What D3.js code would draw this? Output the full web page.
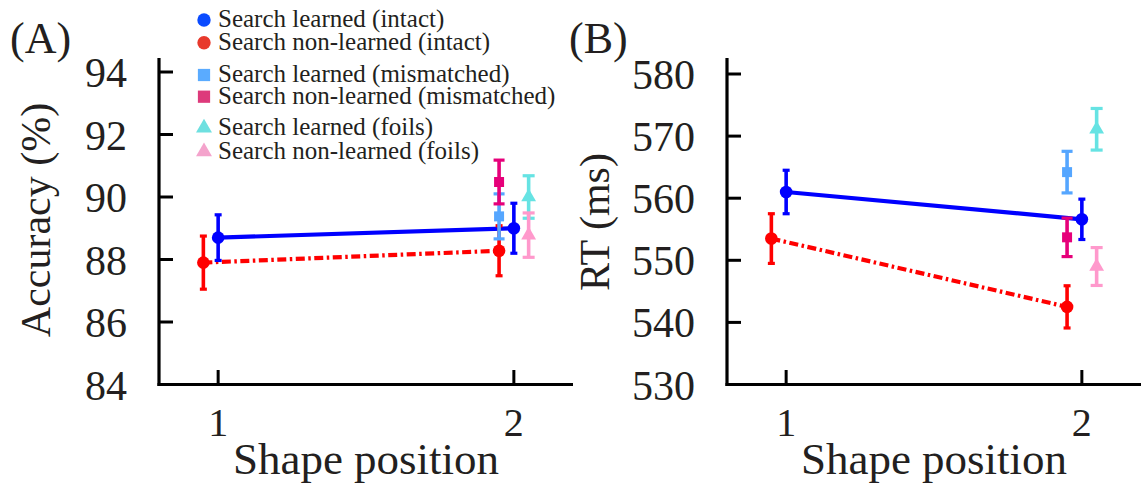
<!DOCTYPE html>
<html>
<head>
<meta charset="utf-8">
<script src="https://cdn.jsdelivr.net/npm/d3@7"></script>
<style>
  html, body { margin: 0; padding: 0; background: #fff; }
</style>
</head>
<body>
<svg id="chart" width="1144" height="485" font-family="'Liberation Serif', 'Times New Roman', Times, 'Nimbus Roman', 'DejaVu Serif', serif"></svg>
<script>
// Shape positions (x) and offsets used to separate overlapping conditions
const positions = [1, 2];
const offsetLeft = -0.05;
const offsetRight = 0.05;

// (A) Accuracy (%) — means and standard errors
const accLearnedIntact = [88.7, 89.0];
const accLearnedIntactErr = [0.73, 0.8];
const accNonLearnedIntact = [87.9, 88.28];
const accNonLearnedIntactErr = [0.85, 0.8];
const accLearnedMismatched = [89.38];
const accLearnedMismatchedErr = [0.72];
const accNonLearnedMismatched = [90.48];
const accNonLearnedMismatchedErr = [0.7];
const accLearnedFoils = [90.0];
const accLearnedFoilsErr = [0.68];
const accNonLearnedFoils = [88.78];
const accNonLearnedFoilsErr = [0.71];

// (B) RT (ms) — means and standard errors
const rtLearnedIntact = [561.0, 556.6];
const rtLearnedIntactErr = [3.5, 3.25];
const rtNonLearnedIntact = [553.5, 542.5];
const rtNonLearnedIntactErr = [4.0, 3.4];
const rtLearnedMismatched = [564.2];
const rtLearnedMismatchedErr = [3.35];
const rtNonLearnedMismatched = [553.7];
const rtNonLearnedMismatchedErr = [3.1];
const rtLearnedFoils = [571.1];
const rtLearnedFoilsErr = [3.35];
const rtNonLearnedFoils = [549.0];
const rtNonLearnedFoilsErr = [3.05];

// Axis ticks
const accTicks = [84, 86, 88, 90, 92, 94];
const rtTicks = [530, 540, 550, 560, 570, 580];
const xTicks = [1, 2];

const legendLabels = [
  "Search learned (intact)",
  "Search non-learned (intact)",
  "Search learned (mismatched)",
  "Search non-learned (mismatched)",
  "Search learned (foils)",
  "Search non-learned (foils)"
];

const svg = d3.select("#chart");
const textColor = "#231f20";

const colors = {
  learnedIntact: "#0000ff",
  nonLearnedIntact: "#ff0000",
  learnedMismatched: "#55a6ff",
  nonLearnedMismatched: "#e6007a",
  learnedFoils: "#66e3e3",
  nonLearnedFoils: "#ff99cc"
};
const legendColors = ["#0a4bff", "#e8392c", "#5aabff", "#dd3a7b", "#6ee0e0", "#f4a3cc"];
const legendShapes = [d3.symbolCircle, d3.symbolCircle, d3.symbolSquare, d3.symbolSquare, d3.symbolTriangle, d3.symbolTriangle];

function addText(parent, str, size) {
  return parent.append("text").attr("font-size", size).attr("fill", textColor).text(str);
}

function drawPanel(cfg) {
  const g = svg.append("g");
  const x = d3.scaleLinear().domain([0.8, 2.2]).range([cfg.left, cfg.left + 414]);
  const y = d3.scaleLinear().domain(cfg.domain).range([384.5, cfg.top]);

  // axes
  g.append("line").attr("x1", cfg.left).attr("x2", cfg.left)
    .attr("y1", 58).attr("y2", 386).attr("stroke", "#000").attr("stroke-width", 3.2);
  g.append("line").attr("x1", cfg.left - 1.5).attr("x2", cfg.left + 414)
    .attr("y1", 384.5).attr("y2", 384.5).attr("stroke", "#000").attr("stroke-width", 3.2);

  // y ticks (inward) and labels
  cfg.ticks.forEach(t => {
    if (t !== cfg.domain[0]) {
      g.append("line").attr("x1", cfg.left).attr("x2", cfg.left + 14)
        .attr("y1", y(t)).attr("y2", y(t)).attr("stroke", "#000").attr("stroke-width", 3);
    }
    addText(g, t, 42).attr("x", cfg.left - 32).attr("y", y(t) + 15).attr("text-anchor", "end");
  });

  // x ticks (inward) and labels
  xTicks.forEach(t => {
    g.append("line").attr("x1", x(t)).attr("x2", x(t))
      .attr("y1", 384.5).attr("y2", 370).attr("stroke", "#000").attr("stroke-width", 3);
    addText(g, t, 40).attr("x", x(t)).attr("y", 436).attr("text-anchor", "middle");
  });

  addText(g, "Shape position", 45).attr("x", cfg.left + 207).attr("y", 474).attr("text-anchor", "middle");

  addText(g, cfg.title, 42)
    .attr("transform", `translate(${cfg.titleX},${cfg.titleY}) rotate(-90)`)
    .attr("text-anchor", "middle");

  addText(g, cfg.label, 44).attr("x", cfg.labelX).attr("y", 53);

  // connecting lines for intact conditions
  const line = d3.line().x(d => x(d[0])).y(d => y(d[1]));
  const learnedPts = positions.map((p, i) => [p, cfg.learnedIntact[i]]);
  const nonLearnedPts = positions.map((p, i) => [p + offsetLeft, cfg.nonLearnedIntact[i]]);
  g.append("path").attr("d", line(nonLearnedPts)).attr("fill", "none")
    .attr("stroke", colors.nonLearnedIntact).attr("stroke-width", 4.2)
    .attr("stroke-dasharray", "9,3.5,2.5,3.5");
  g.append("path").attr("d", line(learnedPts)).attr("fill", "none")
    .attr("stroke", colors.learnedIntact).attr("stroke-width", 4.2);

  function series(xs, vals, errs, color, shape, size, capW) {
    xs.forEach((px, i) => {
      const cx = x(px), v = vals[i], e = errs[i];
      g.append("line").attr("x1", cx).attr("x2", cx)
        .attr("y1", y(v - e)).attr("y2", y(v + e)).attr("stroke", color).attr("stroke-width", 3.6);
      [v - e, v + e].forEach(c => {
        g.append("line").attr("x1", cx - capW / 2).attr("x2", cx + capW / 2)
          .attr("y1", y(c)).attr("y2", y(c)).attr("stroke", color).attr("stroke-width", 3.2);
      });
      g.append("path").attr("d", d3.symbol().type(shape).size(size)())
        .attr("transform", `translate(${cx},${y(v)})`).attr("fill", color);
    });
  }

  series(positions, cfg.learnedIntact, cfg.learnedIntactErr, colors.learnedIntact, d3.symbolCircle, 125, 7);
  series(positions.map(p => p + offsetLeft), cfg.nonLearnedIntact, cfg.nonLearnedIntactErr, colors.nonLearnedIntact, d3.symbolCircle, 125, 7);
  series([2 + offsetLeft], cfg.learnedMismatched, cfg.learnedMismatchedErr, colors.learnedMismatched, d3.symbolSquare, 100, 11);
  series([2 + offsetLeft], cfg.nonLearnedMismatched, cfg.nonLearnedMismatchedErr, colors.nonLearnedMismatched, d3.symbolSquare, 100, 11);
  series([2 + offsetRight], cfg.learnedFoils, cfg.learnedFoilsErr, colors.learnedFoils, d3.symbolTriangle, 95, 12);
  series([2 + offsetRight], cfg.nonLearnedFoils, cfg.nonLearnedFoilsErr, colors.nonLearnedFoils, d3.symbolTriangle, 95, 12);
}

drawPanel({
  left: 159, top: 72, domain: [84, 94], ticks: accTicks,
  title: "Accuracy (%)", titleX: 50, titleY: 220, label: "(A)", labelX: 10,
  learnedIntact: accLearnedIntact, learnedIntactErr: accLearnedIntactErr,
  nonLearnedIntact: accNonLearnedIntact, nonLearnedIntactErr: accNonLearnedIntactErr,
  learnedMismatched: accLearnedMismatched, learnedMismatchedErr: accLearnedMismatchedErr,
  nonLearnedMismatched: accNonLearnedMismatched, nonLearnedMismatchedErr: accNonLearnedMismatchedErr,
  learnedFoils: accLearnedFoils, learnedFoilsErr: accLearnedFoilsErr,
  nonLearnedFoils: accNonLearnedFoils, nonLearnedFoilsErr: accNonLearnedFoilsErr
});

drawPanel({
  left: 727, top: 74, domain: [530, 580], ticks: rtTicks,
  title: "RT (ms)", titleX: 609, titleY: 222, label: "(B)", labelX: 569,
  learnedIntact: rtLearnedIntact, learnedIntactErr: rtLearnedIntactErr,
  nonLearnedIntact: rtNonLearnedIntact, nonLearnedIntactErr: rtNonLearnedIntactErr,
  learnedMismatched: rtLearnedMismatched, learnedMismatchedErr: rtLearnedMismatchedErr,
  nonLearnedMismatched: rtNonLearnedMismatched, nonLearnedMismatchedErr: rtNonLearnedMismatchedErr,
  learnedFoils: rtLearnedFoils, learnedFoilsErr: rtLearnedFoilsErr,
  nonLearnedFoils: rtNonLearnedFoils, nonLearnedFoilsErr: rtNonLearnedFoilsErr
});

// legend
const legendRowY = [20, 42.7, 75, 96.7, 128, 151.7];
const legend = svg.append("g");
legendLabels.forEach((lab, i) => {
  const sz = legendShapes[i] === d3.symbolCircle ? 140 : legendShapes[i] === d3.symbolSquare ? 150 : 110;
  legend.append("path").attr("d", d3.symbol().type(legendShapes[i]).size(sz)())
    .attr("transform", `translate(204,${legendRowY[i]})`).attr("fill", legendColors[i]);
  addText(legend, lab, 25).attr("x", 218).attr("y", legendRowY[i] + 7);
});
</script>
</body>
</html>
